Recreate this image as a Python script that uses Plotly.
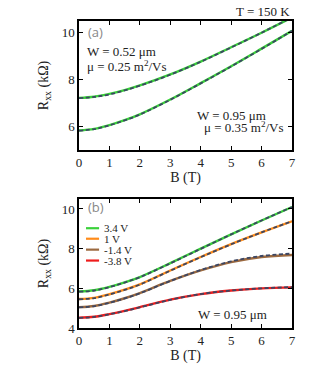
import plotly.graph_objects as go

B = [0, 0.5, 1, 1.5, 2, 3, 4, 5, 6, 7]

# panel (a), T = 150 K
w052_data = [7.22, 7.27, 7.39, 7.55, 7.75, 8.22, 8.77, 9.38, 10.0, 10.65]
w052_fit = [7.21, 7.26, 7.37, 7.54, 7.74, 8.21, 8.76, 9.37, 10.0, 10.66]
w095_data = [5.83, 5.90, 6.06, 6.27, 6.52, 7.15, 7.85, 8.57, 9.32, 10.08]
w095_fit = [5.82, 5.89, 6.05, 6.26, 6.51, 7.14, 7.84, 8.56, 9.31, 10.08]

# panel (b), W = 0.95 um, gate voltages
gate_labels = ["3.4 V", "1 V", "-1.4 V", "-3.8 V"]
gate_colors = ["#3ad13a", "#ff8c1a", "#9c6a40", "#ee1c1c"]
gate_data = [
    [5.84, 5.90, 6.07, 6.30, 6.57, 7.27, 8.00, 8.72, 9.42, 10.10],
    [5.46, 5.52, 5.70, 5.93, 6.20, 6.90, 7.58, 8.23, 8.82, 9.38],
    [5.05, 5.11, 5.28, 5.50, 5.76, 6.37, 6.90, 7.32, 7.58, 7.68],
    [4.52, 4.57, 4.70, 4.86, 5.05, 5.43, 5.71, 5.89, 6.00, 6.05],
]
gate_fit = [
    [5.83, 5.89, 6.06, 6.29, 6.56, 7.26, 7.99, 8.72, 9.42, 10.10],
    [5.45, 5.51, 5.69, 5.92, 6.19, 6.89, 7.57, 8.22, 8.82, 9.38],
    [5.04, 5.10, 5.27, 5.49, 5.75, 6.37, 6.92, 7.36, 7.63, 7.75],
    [4.51, 4.56, 4.69, 4.85, 5.04, 5.42, 5.71, 5.89, 6.00, 6.06],
]
legend_y = [9.03, 8.50, 7.95, 7.40]

FIT = "#3b4663"
SERIF = "Liberation Serif"

fig = go.Figure()
for d, f in [(w052_data, w052_fit), (w095_data, w095_fit)]:
    fig.add_trace(go.Scatter(x=B, y=d, mode="lines", line=dict(color="#3ad13a", width=2.4, shape="spline"),
                             xaxis="x", yaxis="y", showlegend=False))
    fig.add_trace(go.Scatter(x=B, y=f, mode="lines", line=dict(color=FIT, width=1.8, dash="4px,2.5px", shape="spline"),
                             xaxis="x", yaxis="y", showlegend=False))
for d, f, c in zip(gate_data, gate_fit, gate_colors):
    fig.add_trace(go.Scatter(x=B, y=d, mode="lines", line=dict(color=c, width=2.4, shape="spline"),
                             xaxis="x2", yaxis="y2", showlegend=False))
    fig.add_trace(go.Scatter(x=B, y=f, mode="lines", line=dict(color=FIT, width=1.8, dash="4px,2.5px", shape="spline"),
                             xaxis="x2", yaxis="y2", showlegend=False))

ax = dict(showline=True, linecolor="black", linewidth=1.5, mirror="ticks", ticks="inside", ticklen=4,
          tickcolor="black", showgrid=False, zeroline=False, tickfont=dict(family=SERIF, size=13, color="#222"))
fig.update_layout(
    width=335, height=372, paper_bgcolor="white", plot_bgcolor="white",
    margin=dict(l=79, r=43, t=21, b=39),
    xaxis=dict(ax, range=[0, 7], dtick=1, domain=[0, 1], anchor="y",
               title=dict(text="B (T)", font=dict(family=SERIF, size=14, color="#222"), standoff=2)),
    yaxis=dict(ax, range=[5, 10.5], dtick=2, domain=[0.58, 1], anchor="x",
               title=dict(text="R<sub>xx</sub> (kΩ)", font=dict(family=SERIF, size=14, color="#222"), standoff=10)),
    xaxis2=dict(ax, range=[0, 7], dtick=1, domain=[0, 1], anchor="y2",
                title=dict(text="B (T)", font=dict(family=SERIF, size=14, color="#222"), standoff=2)),
    yaxis2=dict(ax, range=[4, 10.5], dtick=2, domain=[0, 0.42], anchor="x2",
                title=dict(text="R<sub>xx</sub> (kΩ)", font=dict(family=SERIF, size=14, color="#222"), standoff=10)),
)

tf = dict(family=SERIF, size=13, color="#222")
gray = dict(family="Open Sans", size=13, color="#888")
ann = [
    dict(text="T = 150 K", x=1, y=1.0, xref="paper", yref="paper", xanchor="right", yanchor="bottom", font=tf),
    dict(text="(a)", x=0.22, y=10.05, xref="x", yref="y", xanchor="left", yanchor="middle", font=gray),
    dict(text="(b)", x=0.22, y=10.1, xref="x2", yref="y2", xanchor="left", yanchor="middle", font=gray),
    dict(text="W = 0.52 μm", x=0.2, y=9.2, xref="x", yref="y", xanchor="left", yanchor="middle", font=tf),
    dict(text="μ = 0.25 m<sup>2</sup>/Vs", x=0.2, y=8.6, xref="x", yref="y", xanchor="left", yanchor="middle", font=tf),
    dict(text="W = 0.95 μm", x=3.8, y=6.48, xref="x", yref="y", xanchor="left", yanchor="middle", font=tf),
    dict(text="μ = 0.35 m<sup>2</sup>/Vs", x=6.8, y=5.98, xref="x", yref="y", xanchor="right", yanchor="middle", font=tf),
    dict(text="W = 0.95 μm", x=6.25, y=4.67, xref="x2", yref="y2", xanchor="right", yanchor="middle", font=tf),
]
for lab, c, yy in zip(gate_labels, gate_colors, legend_y):
    fig.add_shape(type="line", xref="x2", yref="y2", x0=0.23, x1=0.66, y0=yy, y1=yy,
                  line=dict(color=c, width=2.2))
    ann.append(dict(text=lab, x=0.76, y=yy, xref="x2", yref="y2", xanchor="left", yanchor="middle",
                    font=dict(family=SERIF, size=11, color="#222")))
for a in ann:
    a["showarrow"] = False
fig.update_layout(annotations=ann)

# page body without the default browser margin, so the figure fills the window
fig.write_html("out.html", config={"displayModeBar": False},
               post_script="document.body.style.margin='0';")
